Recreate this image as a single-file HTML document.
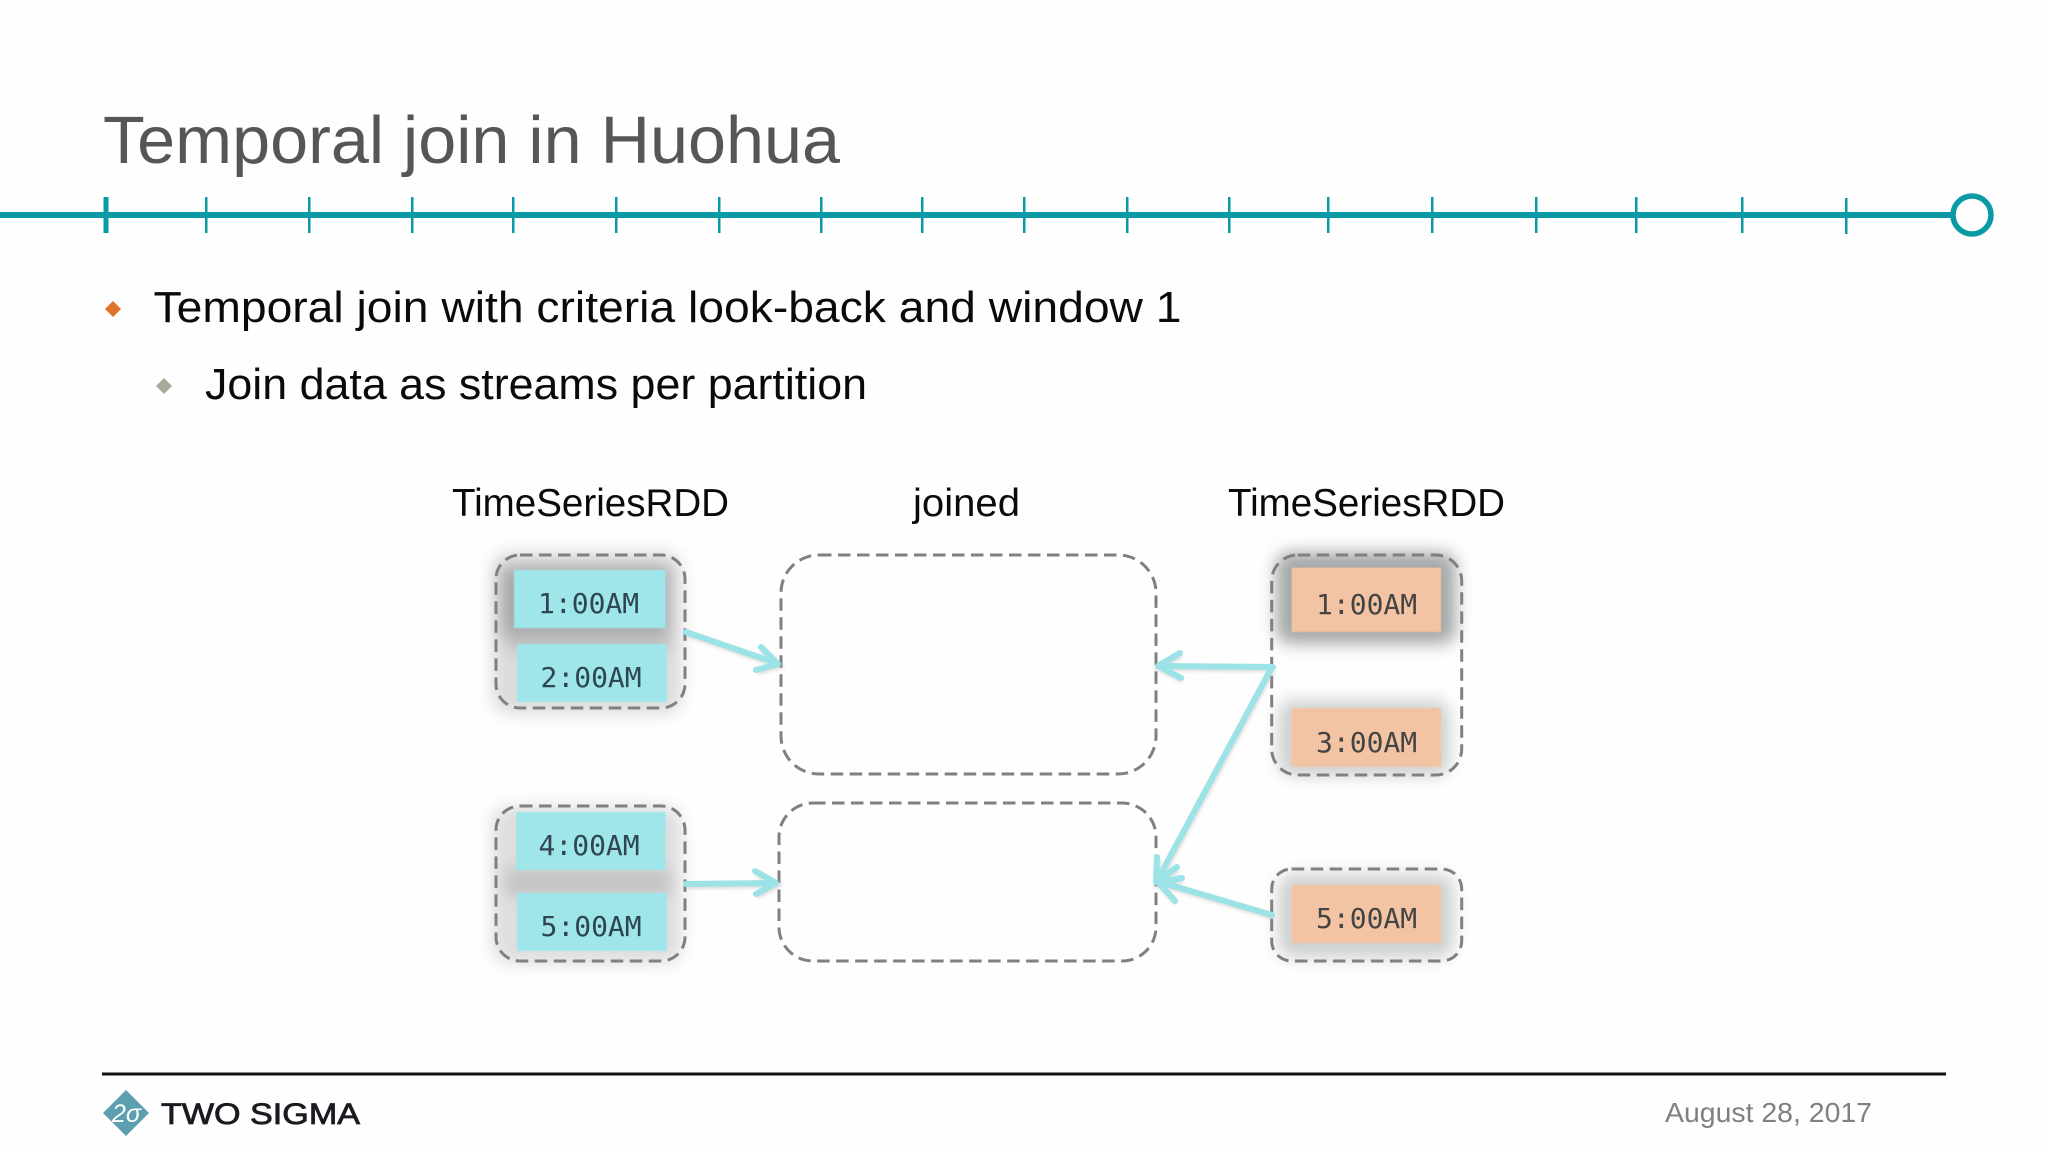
<!DOCTYPE html>
<html lang="en"><head><meta charset="utf-8"><title>Temporal join in Huohua</title>
<style>
html,body{margin:0;padding:0;background:#fefefe}
svg{display:block}
text{font-family:"Liberation Sans",sans-serif}
.m{font-family:"DejaVu Sans Mono",monospace;font-size:28px}
.l{fill:#2f4550}.r{fill:#444}
.d{fill:none;stroke:#808080;stroke-width:3;stroke-dasharray:12.500 6.500}
.a{fill:none;stroke:#9be3e6;stroke-width:6;stroke-linecap:round;stroke-linejoin:round}
.s{fill:none;stroke:#aaa;stroke-width:6;opacity:.4;filter:url(#b2)}
</style></head><body>
<svg width="2048" height="1152" viewBox="0 0 2048 1152" xmlns="http://www.w3.org/2000/svg">
<defs>
<filter id="b9" x="-30%" y="-30%" width="160%" height="160%"><feGaussianBlur stdDeviation="8"/></filter>
<filter id="b2" x="-30%" y="-30%" width="160%" height="160%"><feGaussianBlur stdDeviation="1.5"/></filter>
<filter id="b1" x="-5%" y="-5%" width="110%" height="110%"><feGaussianBlur stdDeviation=".6"/></filter>
</defs>
<rect width="2048" height="1152" fill="#fefefe"/>

<text x="103" y="163" font-size="67" fill="#565656" textLength="737" lengthAdjust="spacingAndGlyphs">Temporal join in Huohua</text>

<g fill="#0a9aa5">
<rect x="0" y="212" width="1955" height="6"/>
<rect x="103.500" y="197" width="5" height="36"/>
<rect x="205" y="197" width="2.500" height="36"/><rect x="308" y="197" width="2.500" height="36"/><rect x="411" y="197" width="2.500" height="36"/>
<rect x="512" y="197" width="2.500" height="36"/><rect x="615" y="197" width="2.500" height="36"/><rect x="718" y="197" width="2.500" height="36"/>
<rect x="820" y="197" width="2.500" height="36"/><rect x="921" y="197" width="2.500" height="36"/><rect x="1023" y="197" width="2.500" height="36"/>
<rect x="1126" y="197" width="2.500" height="36"/><rect x="1228" y="197" width="2.500" height="36"/><rect x="1327" y="197" width="2.500" height="36"/>
<rect x="1431" y="197" width="2.500" height="36"/><rect x="1535" y="197" width="2.500" height="36"/><rect x="1635" y="197" width="2.500" height="36"/>
<rect x="1741" y="197" width="2.500" height="36"/><rect x="1845" y="198" width="2.500" height="36"/>
</g>
<circle cx="1972" cy="215" r="19" fill="#fefefe" stroke="#0a9aa5" stroke-width="5.500"/>

<polygon points="113,301 121,309 113,317 105,309" fill="#e0702a"/>
<text x="153.500" y="322" font-size="44" fill="#0a0a0a" textLength="1028" lengthAdjust="spacingAndGlyphs">Temporal join with criteria look-back and window 1</text>
<polygon points="164,378 172,386 164,394 156,386" fill="#a9a89a"/>
<text x="205" y="399" font-size="44" fill="#0a0a0a" textLength="662" lengthAdjust="spacingAndGlyphs">Join data as streams per partition</text>

<g font-size="39" fill="#0a0a0a">
<text x="452" y="516" textLength="277" lengthAdjust="spacingAndGlyphs">TimeSeriesRDD</text>
<text x="913" y="516" textLength="107" lengthAdjust="spacingAndGlyphs">joined</text>
<text x="1228" y="516" textLength="277" lengthAdjust="spacingAndGlyphs">TimeSeriesRDD</text>
</g>

<!-- shadows -->
<g filter="url(#b9)">
<rect x="492" y="552" width="190" height="162" rx="18" fill="#dcdcdc"/>
<rect x="500" y="566" width="170" height="70" fill="#a8a8a8"/>
<rect x="505" y="632" width="165" height="18" fill="#bcbcbc"/>
<rect x="492" y="806" width="190" height="158" rx="18" fill="#dedede"/>
<rect x="505" y="868" width="165" height="28" fill="#c2c2c2"/>
<rect x="1276" y="552" width="180" height="92" rx="14" fill="#a6a9a9"/>
<rect x="1278" y="700" width="172" height="76" rx="14" fill="#cfd1d1"/>
<rect x="1278" y="874" width="176" height="84" rx="14" fill="#cfd1d1"/>
</g>

<!-- boxes -->
<g filter="url(#b1)">
<rect x="514" y="570" width="151.500" height="58" fill="#9ee6ea"/>
<rect x="517" y="644" width="150" height="58" fill="#9ee6ea"/>
<rect x="516" y="812" width="149.500" height="58" fill="#9ee6ea"/>
<rect x="517" y="893" width="150" height="58" fill="#9ee6ea"/>
<rect x="1291.700" y="567.700" width="149.300" height="64.300" fill="#f2c4a3"/>
<rect x="1291.700" y="708" width="149.300" height="58.700" fill="#f2c4a3"/>
<rect x="1291.700" y="885" width="149.300" height="58" fill="#f2c4a3"/>
</g>

<!-- dashed -->
<rect class="d" x="496" y="555" width="189" height="153" rx="24"/>
<rect class="d" x="496" y="806" width="189" height="155" rx="24"/>
<rect class="d" x="781" y="555" width="375" height="219" rx="38"/>
<rect class="d" x="779" y="803" width="377" height="158" rx="34"/>
<rect class="d" x="1271.700" y="555" width="190" height="220" rx="26"/>
<rect class="d" x="1271.700" y="869" width="190" height="92" rx="20"/>

<!-- labels -->
<text class="m l" x="538" y="613">1:00AM</text>
<text class="m l" x="540.500" y="687">2:00AM</text>
<text class="m l" x="538.500" y="855">4:00AM</text>
<text class="m l" x="540.500" y="936">5:00AM</text>
<text class="m r" x="1316" y="614">1:00AM</text>
<text class="m r" x="1316" y="752">3:00AM</text>
<text class="m r" x="1316" y="928">5:00AM</text>

<!-- arrows -->
<g class="s" transform="translate(1,2)">
<path d="M686 632L776 663M761 647L778 664L756 670"/>
<path d="M686 884L775 883M755 871L776 883L756 894"/>
<path d="M1273 667L1160 666M1180 653L1158 666L1181 678"/>
<path d="M1272 667L1158 879M1157 857L1156 882L1177 867"/>
<path d="M1272 915L1160 882M1182 878L1158 882L1175 901"/>
</g>
<g class="a">
<path d="M686 632L776 663M761 647L778 664L756 670"/>
<path d="M686 884L775 883M755 871L776 883L756 894"/>
<path d="M1273 667L1160 666M1180 653L1158 666L1181 678"/>
<path d="M1272 667L1158 879M1157 857L1156 882L1177 867"/>
<path d="M1272 915L1160 882M1182 878L1158 882L1175 901"/>
</g>

<!-- footer -->
<rect x="102" y="1072.500" width="1844" height="3" fill="#111"/>
<polygon points="126,1090 149,1113 126,1136 103,1113" fill="#5b9fb0"/>
<text x="112" y="1122" font-size="25" fill="#fff" font-style="italic" textLength="29" lengthAdjust="spacingAndGlyphs">2σ</text>
<text x="161" y="1124" font-size="30" fill="#1a1a20" stroke="#1a1a20" stroke-width=".8" textLength="199" lengthAdjust="spacingAndGlyphs">TWO SIGMA</text>
<text x="1665" y="1122" font-size="28" fill="#808080" textLength="207" lengthAdjust="spacingAndGlyphs">August 28, 2017</text>
</svg>
</body></html>
